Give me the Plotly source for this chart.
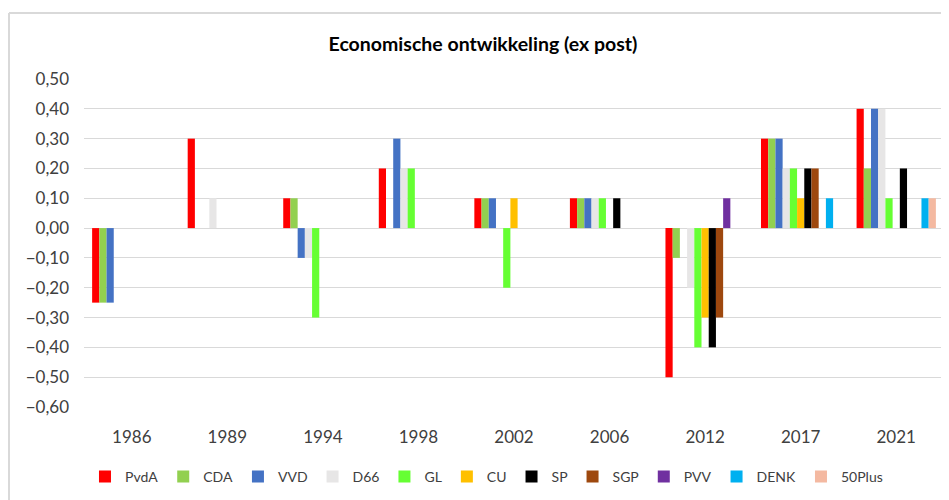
import plotly.graph_objects as go

years = ["1986", "1989", "1994", "1998", "2002", "2006", "2012", "2017", "2021"]

pvda = [-0.25, 0.30, 0.10, 0.20, 0.10, 0.10, -0.50, 0.30, 0.40]
cda = [-0.25, None, 0.10, None, 0.10, 0.10, -0.10, 0.30, 0.20]
vvd = [-0.25, None, -0.10, 0.30, 0.10, 0.10, None, 0.30, 0.40]
d66 = [None, 0.10, -0.10, 0.20, None, 0.10, -0.20, 0.20, 0.40]
gl = [None, None, -0.30, 0.20, -0.20, 0.10, -0.40, 0.20, 0.10]
cu = [None, None, None, None, 0.10, None, -0.30, 0.10, None]
sp = [None, None, None, None, None, 0.10, -0.40, 0.20, 0.20]
sgp = [None, None, None, None, None, None, -0.30, 0.20, None]
pvv = [None, None, None, None, None, None, 0.10, None, None]
denk = [None, None, None, None, None, None, None, 0.10, 0.10]
plus50 = [None, None, None, None, None, None, None, None, 0.10]

series = [
    ("PvdA", pvda, "#FF0000"),
    ("CDA", cda, "#92D050"),
    ("VVD", vvd, "#4472C4"),
    ("D66", d66, "#E7E6E6"),
    ("GL", gl, "#66FF33"),
    ("CU", cu, "#FFC000"),
    ("SP", sp, "#000000"),
    ("SGP", sgp, "#9E480E"),
    ("PVV", pvv, "#7030A0"),
    ("DENK", denk, "#00B0F0"),
    ("50Plus", plus50, "#F4B9A1"),
]

fig = go.Figure()
for name, vals, color in series:
    fig.add_trace(go.Bar(x=years, y=vals, name=name, marker_color=color, marker_line_width=0))

font = "Lato, 'Open Sans', sans-serif"
grid = "#D9D9D9"

# chart frame (left and top edges are the only ones visible in the window)
frame = [
    dict(type="line", xref="paper", yref="paper", x0=-0.0872, x1=-0.0872, y0=-0.5, y1=1.201),
    dict(type="line", xref="paper", yref="paper", x0=-0.0872, x1=1.2, y0=1.201, y1=1.201),
]
for s in frame:
    s["line"] = dict(color=grid, width=2)
    s["layer"] = "below"

# the page adds an 8px body margin, so everything is placed 8px up/left of the target
fig.update_layout(
    width=949, height=500,
    barmode="group", bargap=0.17, bargroupgap=0,
    separators=",.",
    paper_bgcolor="white", plot_bgcolor="white",
    margin=dict(l=76, r=13, t=71, b=101, autoexpand=False),
    font=dict(family=font, size=17, color="#404040"),
    title=dict(text="<b>Economische ontwikkeling (ex post)</b>", x=0.5005, xanchor="center",
               y=0.928, yanchor="middle", font=dict(size=19.5, color="black")),
    legend=dict(orientation="h", x=0.468, xanchor="center", y=-0.213, yanchor="middle",
                font=dict(size=14, color="#404040"), itemwidth=30, traceorder="normal"),
    shapes=frame,
)
fig.update_yaxes(range=[-0.6, 0.5], dtick=0.1, tick0=0, tickformat=".2f", showgrid=True,
                 gridcolor=grid, gridwidth=1.3, zeroline=True, zerolinecolor=grid, zerolinewidth=1.3,
                 showline=False, ticklabelstandoff=14)
fig.update_xaxes(showgrid=False, showline=False, ticklabelstandoff=18)

fig.write_html("out.html")
